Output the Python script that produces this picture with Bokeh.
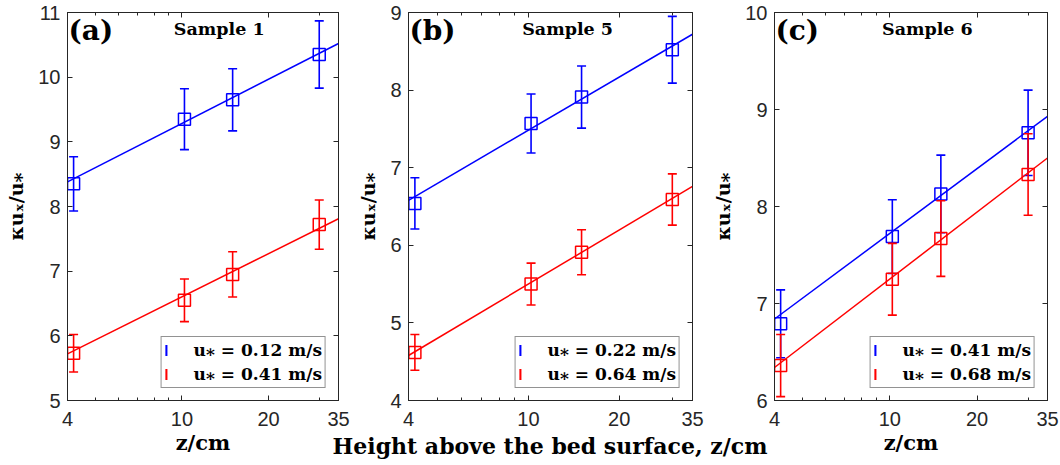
from bokeh.plotting import figure
from bokeh.layouts import row, column
from bokeh.models import (Range1d, FixedTicker, LogAxis, LinearAxis, Label, Legend, LegendItem,
                          ColumnDataSource, Div, BasicTickFormatter, CustomLabelingPolicy)
from bokeh.embed import file_html
from bokeh.resources import INLINE

# ---------------- data ----------------
z = [4.2, 10.2, 15.0, 30.0]
x_lim = [4, 35]
x_ticks = [4, 10, 20, 35]
x_minor = [5, 6, 7, 8, 9, 30]

panel_tags = ["(a)", "(b)", "(c)"]
sample_names = ["Sample 1", "Sample 5", "Sample 6"]
y_ranges = [(5, 11), (4, 9), (6, 10)]
y_ticks = [[5, 6, 7, 8, 9, 10, 11], [4, 5, 6, 7, 8, 9], [6, 7, 8, 9, 10]]

a_blue = [8.35, 9.35, 9.65, 10.35]
a_blue_err = [0.42, 0.47, 0.48, 0.52]
a_red = [5.73, 6.55, 6.95, 7.72]
a_red_err = [0.29, 0.33, 0.35, 0.38]

b_blue = [6.54, 7.57, 7.91, 8.52]
b_blue_err = [0.33, 0.38, 0.40, 0.43]
b_red = [4.62, 5.50, 5.91, 6.59]
b_red_err = [0.23, 0.27, 0.29, 0.33]

c_blue = [6.79, 7.69, 8.13, 8.76]
c_blue_err = [0.35, 0.38, 0.40, 0.44]
c_red = [6.36, 7.25, 7.67, 8.33]
c_red_err = [0.32, 0.37, 0.39, 0.42]

fit_z = [4, 35]
a_blue_fit = [8.38, 10.52]
a_red_fit = [5.72, 7.81]
b_blue_fit = [6.58, 8.72]
b_red_fit = [4.58, 6.76]
c_blue_fit = [6.84, 8.93]
c_red_fit = [6.34, 8.50]

legend_blue = ["u\u204e = 0.12 m/s", "u\u204e = 0.22 m/s", "u\u204e = 0.41 m/s"]
legend_red = ["u\u204e = 0.41 m/s", "u\u204e = 0.64 m/s", "u\u204e = 0.68 m/s"]
y_label = "\u03bau\u2093/u\u204e"
x_label_side = "z/cm"
x_label_mid = "Height above the bed surface, z/cm"

# ---------------- style ----------------
BLUE = "#0000ff"
RED = "#ff0000"
AX = "#262626"
TICK_FONT = "Liberation Sans"
SERIF = "DejaVu Serif"
H = 465
TOP = 12
BOTTOM = 65
FRAME_H = H - TOP - BOTTOM

no_labels = CustomLabelingPolicy(code="for (const i of indices) { indices.unset(i) } return indices")


def style_axis(ax, labels=True):
    ax.axis_line_color = AX
    ax.axis_line_width = 1
    ax.major_tick_line_color = AX
    ax.minor_tick_line_color = AX
    ax.major_tick_in = 5
    ax.major_tick_out = 0
    ax.minor_tick_in = 3
    ax.minor_tick_out = 0
    if labels:
        ax.major_label_text_font = TICK_FONT
        ax.major_label_text_font_size = "20px"
        ax.major_label_text_color = AX
    else:
        ax.major_label_policy = no_labels
        ax.major_label_text_font_size = "0px"
        ax.major_label_standoff = 0


def add_series(p, vals, errs, fit, color):
    src = ColumnDataSource(dict(z=z, y=vals, span=[2 * e for e in errs],
                                lo=[v - e for v, e in zip(vals, errs)],
                                hi=[v + e for v, e in zip(vals, errs)]))
    stems = p.rect(x="z", y="y", width=1.6, width_units="screen", height="span", source=src,
                   fill_color=color, line_color=None)
    p.scatter("z", "lo", source=src, marker="dash", size=9, line_color=color, line_width=1.6)
    p.scatter("z", "hi", source=src, marker="dash", size=9, line_color=color, line_width=1.6)
    p.scatter("z", "y", source=src, marker="square", size=12, fill_color=None,
              line_color=color, line_width=1.5)
    p.line(fit_z, fit, line_color=color, line_width=1.5)
    return stems


def make_panel(k, blue, blue_err, red, red_err, blue_fit, red_fit, width, bl, br, xlabel):
    y0, y1 = y_ranges[k]
    p = figure(width=width, height=H, x_axis_type="log",
               x_range=Range1d(x_lim[0], x_lim[1]), y_range=Range1d(y0, y1),
               output_backend="svg", toolbar_location=None,
               min_border_left=bl, min_border_right=br, min_border_top=TOP, min_border_bottom=BOTTOM)
    p.xgrid.visible = False
    p.ygrid.visible = False
    p.outline_line_color = AX
    p.outline_line_width = 1

    xt = FixedTicker(ticks=x_ticks, minor_ticks=x_minor)
    yt = FixedTicker(ticks=y_ticks[k], minor_ticks=[])
    p.xaxis.ticker = xt
    p.xaxis.formatter = BasicTickFormatter(use_scientific=False)
    p.yaxis.ticker = yt
    style_axis(p.xaxis[0])
    style_axis(p.yaxis[0])
    p.xaxis.major_label_standoff = 11
    p.yaxis.major_label_standoff = 7

    p.yaxis.axis_label = y_label
    p.yaxis.axis_label_text_font = SERIF
    p.yaxis.axis_label_text_font_style = "bold"
    p.yaxis.axis_label_text_font_size = "19px"
    p.yaxis.axis_label_text_color = "black"
    p.yaxis.axis_label_standoff = 8
    if xlabel:
        p.xaxis.axis_label = xlabel
        p.xaxis.axis_label_text_font = SERIF
        p.xaxis.axis_label_text_font_style = "bold"
        p.xaxis.axis_label_text_font_size = "21px"
        p.xaxis.axis_label_text_color = "black"
        p.xaxis.axis_label_standoff = 1

    top = LogAxis(ticker=xt)
    style_axis(top, labels=False)
    p.add_layout(top, "above")
    right = LinearAxis(ticker=yt)
    style_axis(right, labels=False)
    p.add_layout(right, "right")

    lb = add_series(p, blue, blue_err, blue_fit, BLUE)
    lr = add_series(p, red, red_err, red_fit, RED)

    leg = Legend(items=[LegendItem(label=legend_blue[k], renderers=[lb]),
                        LegendItem(label=legend_red[k], renderers=[lr])],
                 location="bottom_right", glyph_width=3, glyph_height=14, label_height=20,
                 spacing=4, padding=3, margin=12, label_standoff=26,
                 label_text_font=SERIF, label_text_font_style="bold", label_text_font_size="17px",
                 label_text_color="black",
                 border_line_color=AX, border_line_width=1, background_fill_color="white",
                 background_fill_alpha=1)
    p.add_layout(leg, "center")

    span = y1 - y0
    p.add_layout(Label(x=x_lim[0], y=y1 - 18 / FRAME_H * span, text=panel_tags[k], text_align="left",
                       text_baseline="middle", text_font=SERIF, text_font_style="bold",
                       text_font_size="28px", text_color="black", x_offset=1))
    sx = x_lim[0] * (x_lim[1] / x_lim[0]) ** 0.56
    p.add_layout(Label(x=sx, y=y1 - 16 / FRAME_H * span, text=sample_names[k], text_align="center",
                       text_baseline="middle", text_font=SERIF, text_font_style="bold",
                       text_font_size="17.5px", text_color="black"))
    return p


pa = make_panel(0, a_blue, a_blue_err, a_red, a_red_err, a_blue_fit, a_red_fit, 350, 67, 12, x_label_side)
pb = make_panel(1, b_blue, b_blue_err, b_red, b_red_err, b_blue_fit, b_red_fit, 355, 58, 13, None)
pc = make_panel(2, c_blue, c_blue_err, c_red, c_red_err, c_blue_fit, c_red_fit, 355, 69, 13, x_label_side)

mid_label = Div(text=x_label_mid, width=440, height=30, margin=(-30, 0, 0, 330),
                styles={"font-family": SERIF, "font-weight": "bold", "font-size": "22px",
                        "white-space": "nowrap", "text-align": "center", "color": "black",
                        "line-height": "22px"})

layout = column(row(pa, pb, pc), mid_label)
open("out.html", "w").write(file_html(layout, INLINE))
